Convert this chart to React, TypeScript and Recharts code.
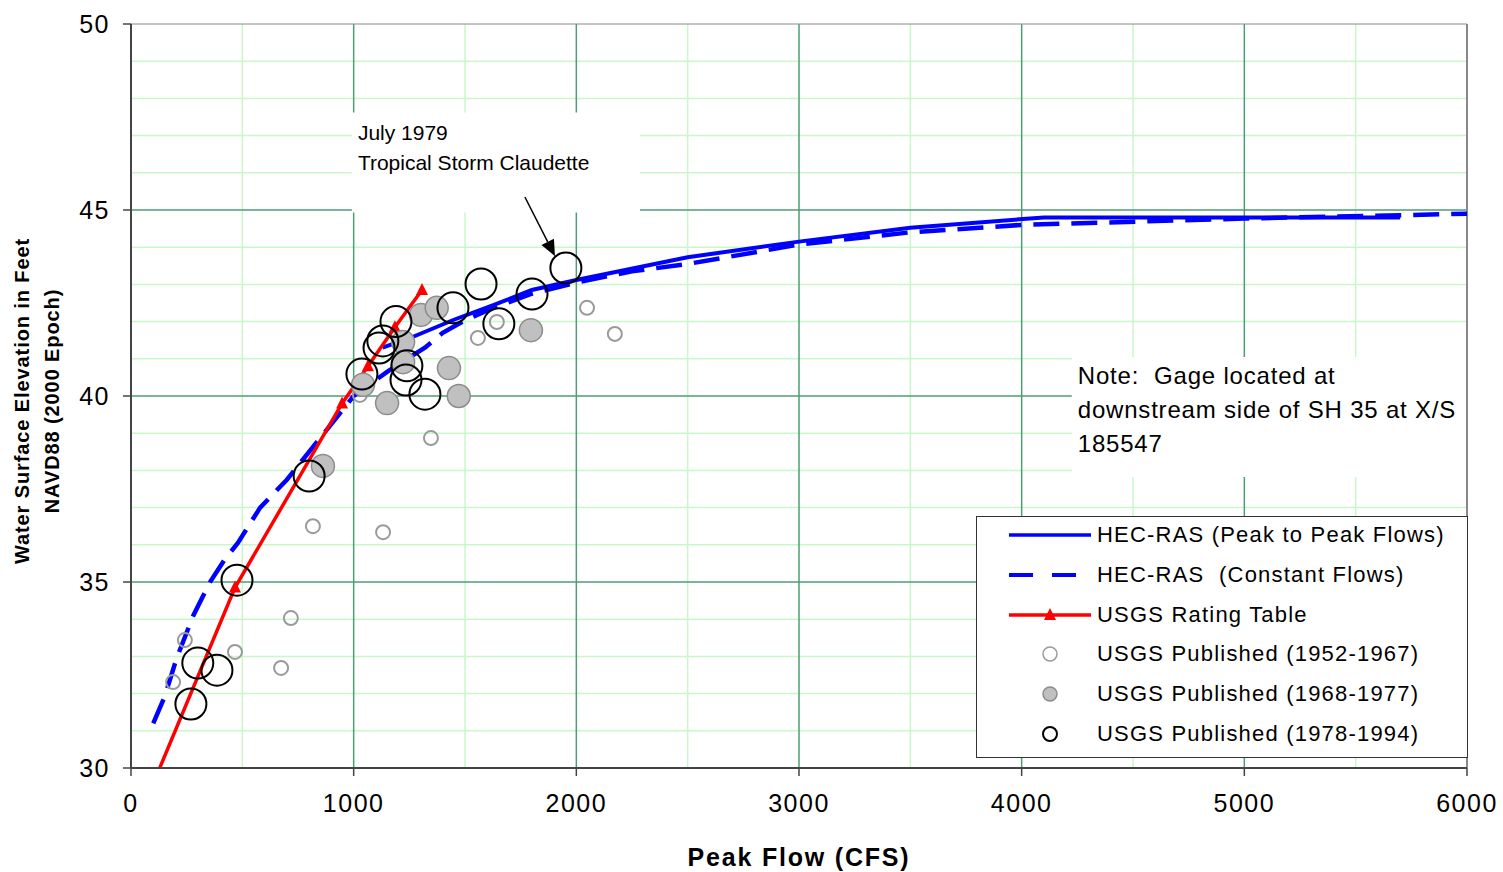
import {
  ComposedChart,
  CartesianGrid,
  Line,
  Scatter,
  XAxis,
  YAxis,
  ReferenceLine,
  ReferenceArea,
} from "recharts";

// HEC-RAS (Peak to Peak Flows)
const peakToPeak: [number, number][] = [
  [1130, 41.3], [1270, 41.6], [1450, 42.05], [1630, 42.45], [1800, 42.85],
  [2000, 43.12], [2500, 43.73], [3000, 44.15], [3500, 44.52], [4100, 44.8],
  [5700, 44.8],
];

// HEC-RAS (Constant Flows)
const constantFlows: [number, number][] = [
  [100, 31.2], [150, 31.9], [205, 32.95], [280, 34.1], [355, 35.0],
  [420, 35.6], [480, 36.05], [580, 37.0], [700, 37.75], [820, 38.65],
  [940, 39.55], [1000, 40.0], [1150, 40.65], [1320, 41.3], [1400, 41.7],
  [1490, 42.0], [1600, 42.3], [1800, 42.75], [2000, 43.05], [2250, 43.35],
  [2500, 43.55], [3000, 44.07], [3500, 44.4], [4000, 44.6], [5000, 44.77],
  [6000, 44.9],
];

// USGS Rating Table
const ratingTable: [number, number][] = [
  [115, 29.8], [467, 34.85], [948, 39.8], [1064, 40.8], [1185, 41.85], [1307, 42.85],
];

// USGS Published (1952-1967)
const pub5267: [number, number][] = [
  [189, 32.31], [242, 33.44], [467, 33.12], [674, 32.69], [718, 34.03],
  [817, 36.5], [1132, 36.34], [1347, 38.87], [1028, 40.03], [1558, 41.56],
  [1643, 41.99], [2048, 42.37], [2173, 41.67],
];

// USGS Published (1968-1977)
const pub6877: [number, number][] = [
  [862, 38.12], [1042, 40.3], [1150, 39.81], [1222, 41.45], [1222, 40.91],
  [1302, 42.18], [1373, 42.37], [1428, 40.75], [1472, 40.0], [1796, 41.77],
];

// USGS Published (1978-1994)
const pub7894: [number, number][] = [
  [269, 31.72], [300, 32.82], [386, 32.63], [476, 35.05], [800, 37.85],
  [1037, 40.59], [1114, 41.29], [1131, 41.48], [1190, 42.0], [1239, 40.81],
  [1235, 40.43], [1320, 40.05], [1446, 42.37], [1572, 43.01], [1652, 41.94],
  [1801, 42.74], [1953, 43.44],
];

const xMajor = [0, 1000, 2000, 3000, 4000, 5000, 6000];
const xMinor = [500, 1500, 2500, 3500, 4500, 5500];
const yMajor = [30, 35, 40, 45, 50];
const yMinor = [31, 32, 33, 34, 36, 37, 38, 39, 41, 42, 43, 44, 46, 47, 48, 49];

const toPts = (arr: [number, number][]) => arr.map(([x, y]) => ({ x, y }));

const FONT = "'Liberation Sans', Arial, sans-serif";
const MAJOR = "#4f9d76";
const MINOR = "#c9f7c9";

const hollowSmall = (p: any) => (
  <circle cx={p.cx} cy={p.cy} r={7} fill="none" stroke="#9a9a9a" strokeWidth={2} />
);
const filledGray = (p: any) => (
  <circle cx={p.cx} cy={p.cy} r={11.5} fill="#c0c0c0" stroke="#8c8c8c" strokeWidth={1.5} />
);
const hollowBig = (p: any) => (
  <circle cx={p.cx} cy={p.cy} r={15.5} fill="none" stroke="#000" strokeWidth={2} />
);

const triangle = (p: any) => {
  if (p.cx == null || p.cy == null) return <g key={p.key} />;
  const { cx, cy } = p;
  return (
    <polygon
      key={p.key}
      points={`${cx},${cy - 7} ${cx - 6},${cy + 5} ${cx + 6},${cy + 5}`}
      fill="#ff0000"
    />
  );
};

const legendItems = [
  { label: "HEC-RAS (Peak to Peak Flows)", kind: "solid" },
  { label: "HEC-RAS  (Constant Flows)", kind: "dashed" },
  { label: "USGS Rating Table", kind: "red" },
  { label: "USGS Published (1952-1967)", kind: "small" },
  { label: "USGS Published (1968-1977)", kind: "gray" },
  { label: "USGS Published (1978-1994)", kind: "big" },
];

function LegendSample({ kind }: { kind: string }) {
  return (
    <svg width={84} height={20} style={{ display: "block" }}>
      {kind === "solid" && <line x1={1} y1={10} x2={83} y2={10} stroke="#0000ff" strokeWidth={3.5} />}
      {kind === "dashed" && (
        <line x1={1} y1={10} x2={73} y2={10} stroke="#0000ff" strokeWidth={4} strokeDasharray="24 19" />
      )}
      {kind === "red" && (
        <g>
          <line x1={1} y1={10} x2={83} y2={10} stroke="#ff0000" strokeWidth={3.5} />
          <polygon points="42,3 36,15 48,15" fill="#ff0000" />
        </g>
      )}
      {kind === "small" && <circle cx={42} cy={10} r={7} fill="#fff" stroke="#9a9a9a" strokeWidth={1.5} />}
      {kind === "gray" && <circle cx={42} cy={10} r={7} fill="#c0c0c0" stroke="#8c8c8c" strokeWidth={1.5} />}
      {kind === "big" && <circle cx={42} cy={10} r={7} fill="#fff" stroke="#000" strokeWidth={2} />}
    </svg>
  );
}

const arrowShape = (p: any) => {
  const { x1, y1, x2, y2 } = p;
  if (x1 == null) return <g />;
  const ang = Math.atan2(y2 - y1, x2 - x1);
  const len = 16;
  const w = 7;
  const bx = x2 - len * Math.cos(ang);
  const by = y2 - len * Math.sin(ang);
  const px = -Math.sin(ang) * w;
  const py = Math.cos(ang) * w;
  return (
    <g>
      <line x1={x1} y1={y1} x2={bx} y2={by} stroke="#000" strokeWidth={1.5} />
      <polygon points={`${x2},${y2} ${bx + px},${by + py} ${bx - px},${by - py}`} fill="#000" />
    </g>
  );
};

export default function App() {
  return (
    <div style={{ position: "absolute", left: 0, top: 0, width: 1503, height: 872, background: "#fff", fontFamily: FONT }}>
      <ComposedChart
        width={1503}
        height={872}
        margin={{ top: 24, right: 36, bottom: 54, left: 71 }}
      >
        {/* minor then major gridlines */}
        <CartesianGrid
          stroke={MINOR}
          strokeWidth={1.5}
          horizontalValues={yMinor}
          verticalValues={xMinor}
        />
        <CartesianGrid
          stroke={MAJOR}
          strokeWidth={1.5}
          horizontalValues={yMajor.slice(1, -1)}
          verticalValues={xMajor.slice(1, -1)}
        />
        <XAxis
          type="number"
          dataKey="x"
          domain={[0, 6000]}
          ticks={xMajor}
          allowDataOverflow
          interval={0}
          tickSize={8}
          tickMargin={18}
          height={50}
          axisLine={{ stroke: "#444", strokeWidth: 2 }}
          tickLine={{ stroke: "#444", strokeWidth: 1.5 }}
          tick={{ fontSize: 25, fill: "#000", fontFamily: FONT, letterSpacing: 1.5 }}
          label={{
            content: () => (
              <text x={799} y={866} textAnchor="middle" fontSize={25} fontWeight="bold" fontFamily={FONT} letterSpacing={1.8} fill="#000">
                Peak Flow (CFS)
              </text>
            ),
          }}
        />
        <YAxis
          type="number"
          dataKey="y"
          domain={[30, 50]}
          ticks={yMajor}
          allowDataOverflow
          interval={0}
          width={60}
          tickSize={8}
          tickMargin={13}
          axisLine={{ stroke: "#444", strokeWidth: 2 }}
          tickLine={{ stroke: "#444", strokeWidth: 1.5 }}
          tick={{ fontSize: 25, fill: "#000", fontFamily: FONT, letterSpacing: 1.5 }}
          label={{
            content: () => (
              <text transform="translate(0,401) rotate(-90)" textAnchor="middle" fontSize={20} fontWeight="bold" fontFamily={FONT} letterSpacing={0.9} fill="#000">
                <tspan x={0} y={29}>Water Surface Elevation in Feet</tspan>
                <tspan x={0} y={59}>NAVD88 (2000 Epoch)</tspan>
              </text>
            ),
          }}
        />

        <ReferenceArea
          x1={992}
          x2={2286}
          y1={44.93}
          y2={47.62}
          fill="#fff"
          fillOpacity={1}
          stroke="none"
          label={{
            content: (p: any) => {
              const vb = p.viewBox || {};
              return (
                <text fontSize={21} fontFamily={FONT} fill="#000">
                  <tspan x={vb.x + 6} y={vb.y + 27}>July 1979</tspan>
                  <tspan x={vb.x + 6} y={vb.y + 57}>Tropical Storm Claudette</tspan>
                </text>
              );
            },
          }}
        />
        <ReferenceArea
          x1={4225}
          x2={6000}
          y1={37.82}
          y2={41.05}
          fill="#fff"
          fillOpacity={1}
          stroke="none"
          label={{
            content: (p: any) => {
              const vb = p.viewBox || {};
              return (
                <text fontSize={24} fontFamily={FONT} fill="#000" letterSpacing={0.8} style={{ whiteSpace: "pre" }}>
                  <tspan x={vb.x + 6} y={vb.y + 27}>{"Note:  Gage located at"}</tspan>
                  <tspan x={vb.x + 6} y={vb.y + 61}>downstream side of SH 35 at X/S</tspan>
                  <tspan x={vb.x + 6} y={vb.y + 95}>185547</tspan>
                </text>
              );
            },
          }}
        />
        <ReferenceLine x={6000} stroke="#888" strokeWidth={2} />
        <ReferenceLine y={50} stroke="#888" strokeWidth={1} />

        <Line
          data={toPts(constantFlows)}
          dataKey="y"
          type="linear"
          stroke="#0000ff"
          strokeWidth={4.5}
          strokeDasharray="26 12"
          dot={false}
          activeDot={false}
          isAnimationActive={false}
        />
        <Line
          data={toPts(peakToPeak)}
          dataKey="y"
          type="linear"
          stroke="#0000ff"
          strokeWidth={4}
          dot={false}
          activeDot={false}
          isAnimationActive={false}
        />
        <Line
          data={toPts(ratingTable)}
          dataKey="y"
          type="linear"
          stroke="#ff0000"
          strokeWidth={3.5}
          dot={triangle}
          activeDot={false}
          isAnimationActive={false}
        />

        <Scatter data={toPts(pub5267)} dataKey="y" shape={hollowSmall} isAnimationActive={false} />
        <Scatter data={toPts(pub6877)} dataKey="y" shape={filledGray} isAnimationActive={false} />
        <Scatter data={toPts(pub7894)} dataKey="y" shape={hollowBig} isAnimationActive={false} />

        <ReferenceLine
          segment={[
            { x: 1769, y: 45.35 },
            { x: 1904, y: 43.76 },
          ]}
          shape={arrowShape}
          ifOverflow="visible"
        />
      </ComposedChart>

      {/* Legend */}
      <div
        style={{
          position: "absolute",
          left: 976,
          top: 516,
          width: 492,
          height: 242,
          background: "#fff",
          border: "1px solid #333",
          boxSizing: "border-box",
        }}
      >
        {legendItems.map((it, i) => (
          <div
            key={it.label}
            style={{
              position: "absolute",
              left: 31,
              top: 8 + i * 39.8,
              height: 20,
              display: "flex",
              alignItems: "center",
            }}
          >
            <LegendSample kind={it.kind} />
            <span style={{ marginLeft: 5, fontSize: 22, letterSpacing: 1.2, whiteSpace: "pre", lineHeight: "20px" }}>
              {it.label}
            </span>
          </div>
        ))}
      </div>
    </div>
  );
}
